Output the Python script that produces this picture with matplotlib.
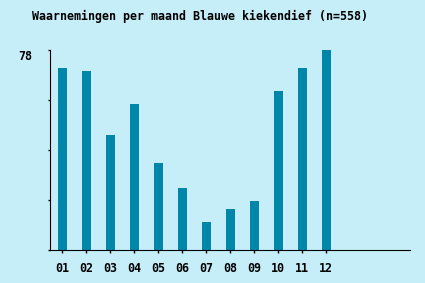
import numpy as np
import matplotlib
matplotlib.use("Agg")
import matplotlib.pyplot as plt

# maandtotalen (som = 558)
maanden = ["01", "02", "03", "04", "05", "06", "07", "08", "09", "10", "11", "12"]
aantallen = [71, 70, 45, 57, 34, 24, 11, 16, 19, 62, 71, 78]
ymax = 78

bg = "#c6eef8"
balk = "#0086a8"
font = "DejaVu Sans Mono"

fig = plt.figure(figsize=(4.25, 2.83), dpi=100, facecolor=bg)
ax = fig.add_axes([50/425, 33/283, 360/425, 200/283])
ax.set_facecolor(bg)

x = np.arange(1, len(maanden) + 1)
ax.bar(x, aantallen, width=0.375, color=balk)

ax.set_xlim(0.5, 15.5)
ax.set_ylim(0, ymax)
ax.spines["top"].set_visible(False)
ax.spines["right"].set_visible(False)

ax.set_xticks(x)
ax.set_xticklabels(maanden, fontfamily=font, fontweight="bold", fontsize=8.4)
ax.set_yticks(np.linspace(0, ymax, 5))
ax.set_yticklabels(["", "", "", "", str(ymax)], fontfamily=font, fontweight="bold", fontsize=8.4)
ax.tick_params(axis="x", length=2, width=1, pad=7)
ax.tick_params(axis="y", length=1.5, width=1, pad=11)
for lbl in ax.get_yticklabels():
    lbl.set_va("top")

fig.text(199.5/425, 1 - 16/283, "Waarnemingen per maand Blauwe kiekendief (n=558)",
         ha="center", va="center", fontfamily=font, fontweight="bold", fontsize=8.4)

fig.savefig("out.png", dpi=100, facecolor=bg)
